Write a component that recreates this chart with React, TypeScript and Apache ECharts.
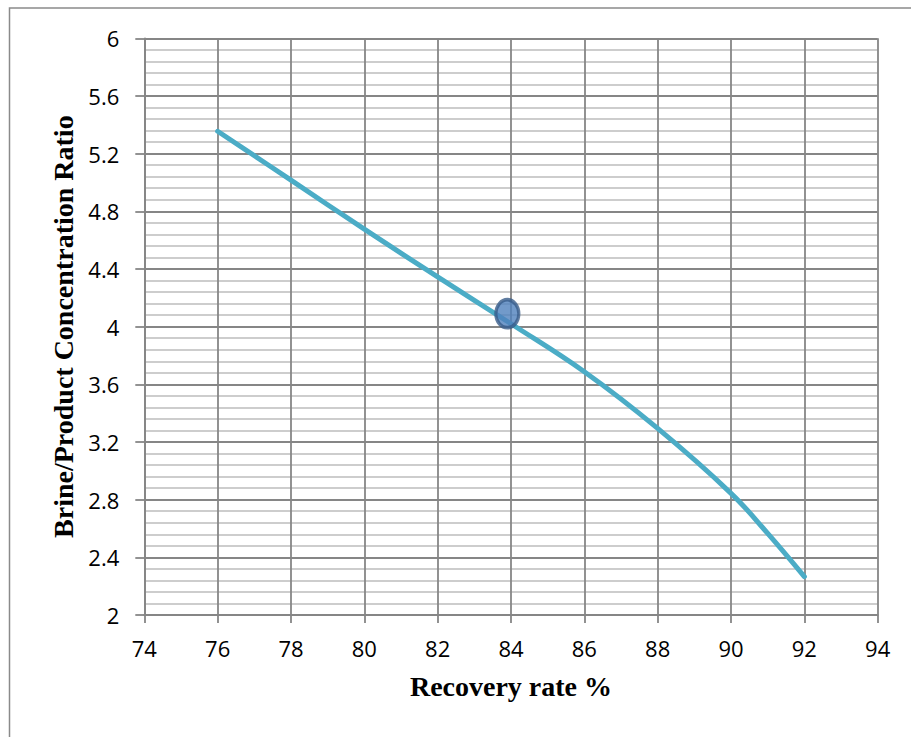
import React, { useEffect, useRef } from "react";
import * as echarts from "echarts";

const recoveryRate = [76, 78, 80, 82, 84, 86, 88, 90, 91, 92];
const concentrationRatio = [5.355, 5.016, 4.676, 4.345, 4.02, 3.687, 3.294, 2.844, 2.566, 2.266];
const markerPoint = [83.9, 4.09];

const xTicks = { min: 74, max: 94, interval: 2 };
const yTicks = { min: 2, max: 6, interval: 0.4 };

const xTitle = "Recovery rate %";
const yTitle = "Brine/Product Concentration Ratio";

export default function App() {
  const ref = useRef<HTMLDivElement>(null);
  useEffect(() => {
    if (!ref.current) return;
    const chart = echarts.init(ref.current, undefined, { renderer: "svg" });
    const lineData = recoveryRate.map((x, i) => [x, concentrationRatio[i]]);
    const major = "#868686";
    const labelFont = { fontFamily: "Open Sans", fontSize: 22, color: "#000" };
    chart.setOption({
      animation: false,
      backgroundColor: "#fff",
      graphic: [
        {
          type: "rect",
          shape: { x: 9.5, y: 8, width: 1000, height: 1000 },
          style: { fill: "none", stroke: "#8a8a8a", lineWidth: 1.5 },
          silent: true,
          z: -1,
        },
      ],
      grid: { left: 144.3, right: 33.3, top: 38.3, bottom: 122, containLabel: false },
      xAxis: {
        type: "value",
        min: xTicks.min,
        max: xTicks.max,
        interval: xTicks.interval,
        name: xTitle,
        nameLocation: "middle",
        nameGap: 57,
        nameTextStyle: { fontFamily: "Liberation Serif", fontWeight: "bold", fontSize: 28, color: "#000" },
        axisLine: { show: true, lineStyle: { color: major, width: 1.8 } },
        axisTick: { show: true, inside: false, length: 8, lineStyle: { color: major, width: 1.8 } },
        axisLabel: { ...labelFont, margin: 22 },
        splitLine: { show: true, lineStyle: { color: major, width: 1.8 } },
        minorTick: { show: false },
        minorSplitLine: { show: false },
      },
      yAxis: {
        type: "value",
        min: yTicks.min,
        max: yTicks.max,
        interval: yTicks.interval,
        name: yTitle,
        nameLocation: "middle",
        nameGap: 67,
        nameTextStyle: { fontFamily: "Liberation Serif", fontWeight: "bold", fontSize: 28, color: "#000" },
        axisLine: { show: true, lineStyle: { color: major, width: 1.8 } },
        axisTick: { show: true, inside: false, length: 9, lineStyle: { color: major, width: 1.8 } },
        axisLabel: { ...labelFont, margin: 25 },
        splitLine: { show: true, lineStyle: { color: major, width: 1.8 } },
        minorTick: { show: false, splitNumber: 5 },
        minorSplitLine: { show: true, lineStyle: { color: "#bdbdbd", width: 1.6 } },
      },
      series: [
        {
          type: "line",
          data: lineData,
          smooth: 0.4,
          showSymbol: false,
          symbol: "none",
          lineStyle: { color: "#4bacc6", width: 5, cap: "round" },
          z: 3,
        },
        {
          type: "scatter",
          data: [markerPoint],
          symbol: "path://M0,1 A1,1 0 1,1 2,1 A1,1 0 1,1 0,1 Z",
          symbolSize: [23, 28],
          itemStyle: { color: "#4f81bd", borderColor: "#385d8a", borderWidth: 3.5 },
          z: 4,
        },
      ],
    });
    return () => chart.dispose();
  }, []);
  return (
    <div
      ref={ref}
      style={{ position: "fixed", left: 0, top: 0, width: 911, height: 737 }}
    />
  );
}
